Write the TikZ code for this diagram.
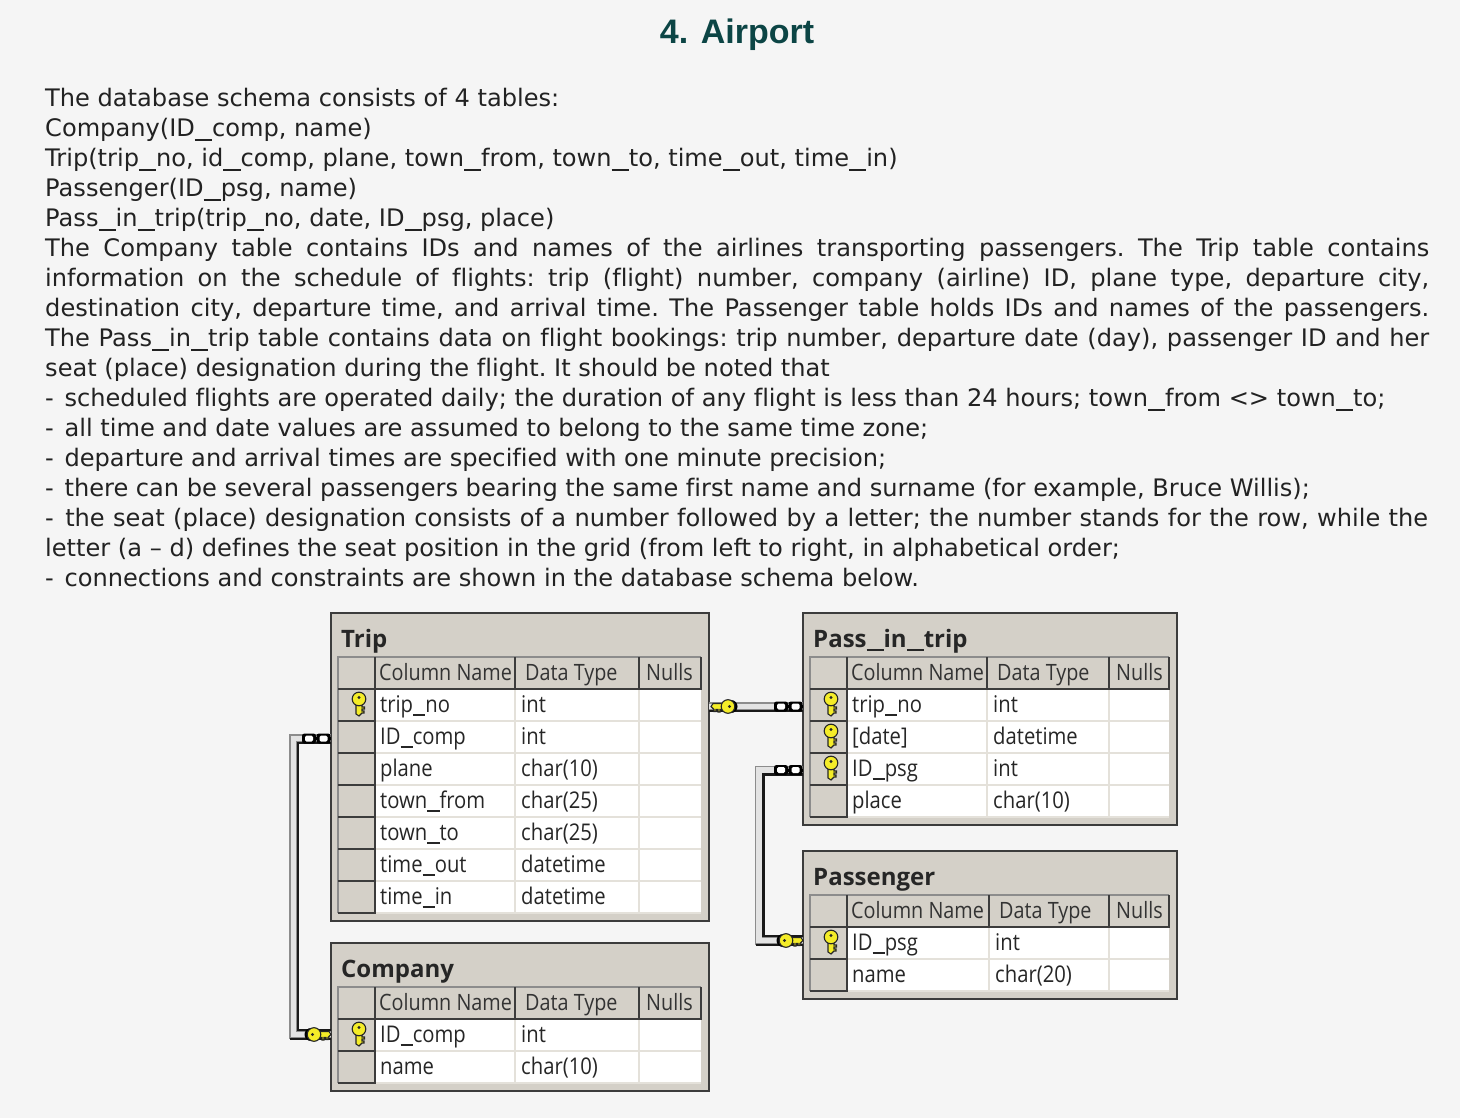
\documentclass[tikz,border=0pt]{standalone}
\usepackage{fontspec}
\setmainfont[Ligatures=NoCommon]{DejaVu Sans}
\newfontfamily\titlefont{Liberation Sans}
\newfontfamily\panelfont{Open Sans}
\newfontfamily\gridfont[FakeStretch=0.88]{Open Sans}
\usetikzlibrary{positioning}

\definecolor{pagebg}{HTML}{F5F5F5}
\definecolor{titleteal}{HTML}{0C4545}
\definecolor{bodytext}{HTML}{222222}
\definecolor{panelbg}{HTML}{D4D0C8}
\definecolor{paneledge}{HTML}{3C3C3C}
\definecolor{gridlight}{HTML}{E4E1DA}
\definecolor{keyyellow}{HTML}{F4EC28}

\newcommand{\us}{\rule[-0.17em]{0.71em}{0.075em}}
\newcommand{\usg}{\rule[-0.17em]{0.53em}{0.07em}}
\newcommand{\dsh}{-\kern3pt\ }
\newcommand{\keyshape}{
    \draw[draw=black!85, fill=keyyellow, line width=1.1pt]
        (-3,0) -- (3,0) -- (3,3) -- (5.5,3) -- (5.5,5) -- (3,5) -- (3,7) -- (5,7) -- (5,9) -- (3,9)
        -- (0,12) -- (-3,10) -- cycle;
    \draw[draw=black!85, fill=keyyellow, line width=1.1pt] (0,-5) circle (6.8);
    \fill[black!85] (0,-6.5) circle (1.6);
}

\tikzset{
    bodyline/.style={anchor=base west, inner sep=0pt, text=bodytext, font=\frenchspacing\fontsize{24.1}{30}\selectfont},
    panel/.style={fill=panelbg, draw=paneledge, line width=2.4pt},
    paneltitle/.style={anchor=base west, inner sep=0pt, font=\panelfont\bfseries\fontsize{24}{30}\selectfont, text=black!85},
    gridtext/.style={anchor=base west, inner sep=0pt, font=\gridfont\fontsize{23}{30}\selectfont, text=black!85},
    gridhead/.style={anchor=base west, inner sep=0pt, font=\gridfont\fontsize{22.5}{30}\selectfont, text=black!80},
    keyicon/.pic={\keyshape},
    linkkey/.pic={
        \fill[black] (0,-8) circle (6.5);
        \keyshape
    },
    chainend/.pic={
        \fill[black] (-16,-1.5) rectangle (0,1.5);
        \fill[black, rounded corners=2.5pt] (-29,-5) rectangle (-15,5);
        \fill[black, rounded corners=2.5pt] (-14.5,-5) rectangle (-0.5,5);
        \fill[white, rounded corners=1.5pt] (-26,-3) rectangle (-18,3);
        \fill[white, rounded corners=1.5pt] (-11.5,-3) rectangle (-3.5,3);
    },
    linkback/.style={draw=black!45, line width=9pt},
    linkfill/.style={draw=black!11, line width=5.4pt},
    linkedge/.style={draw=black!90, line width=2.8pt},
}

% #1 id, #2 title, #3 left, #4 right, #5 top, #6 bottom, #7 type column, #8 nulls column, #9 rows
\newcommand{\dbtable}[9]{
    \draw[panel] (#3,#5) rectangle (#4,#6);
    \node[paneltitle] (#1title) at (#3+10,#5+34) {#2};
    \fill[white] (#3+44,#5+76) rectangle (#4-8,#6-8);
    \draw[black!45, line width=1.6pt] (#3+7,#6-8) -- (#3+7,#5+44) -- (#4-8,#5+44);
    \draw[paneledge, line width=2pt] (#3+7,#5+76) -- (#4-8,#5+76) -- (#4-8,#5+44);
    \draw[paneledge, line width=2pt] (#3+44,#5+44) -- (#3+44,#6-8) -- (#3+7,#6-8);
    \draw[paneledge, line width=2pt] (#7,#5+44) -- (#7,#5+76);
    \draw[paneledge, line width=2pt] (#8,#5+44) -- (#8,#5+76);
    \draw[gridlight, line width=2pt] (#7,#5+77) -- (#7,#6-8);
    \draw[gridlight, line width=2pt] (#8,#5+77) -- (#8,#6-8);
    \node[gridhead] (#1colname) at (#3+48,#5+67) {Column Name};
    \node[gridhead] (#1coltype) at (#7+10,#5+67) {Data Type};
    \node[gridhead] (#1colnull) at (#8+7,#5+67) {Nulls};
    \foreach \cname/\ctype/\ckey [count=\r from 0] in {#9} {
        \draw[paneledge, line width=2pt] (#3+7,#5+108+32*\r) -- (#3+44,#5+108+32*\r);
        \draw[gridlight, line width=2pt] (#3+45,#5+108+32*\r) -- (#4-8,#5+108+32*\r);
        \node[gridtext] (#1name\r) at (#3+49,#5+99+32*\r) {\cname};
        \node[gridtext] (#1type\r) at (#7+6,#5+99+32*\r) {\ctype};
        \ifnum\ckey=1
            \pic at (#3+28,#5+91+32*\r) {keyicon};
        \fi
    }
}

\begin{document}
\begin{tikzpicture}[x=1pt,y=-1pt]

\useasboundingbox (0,0) rectangle (1460,1118);
\fill[pagebg] (0,0) rectangle (1460,1118);

\node[anchor=base, inner sep=0pt, text=titleteal, font=\titlefont\bfseries\fontsize{34}{40}\selectfont] (heading) at (737,44) {4. Airport};

\foreach \t [count=\i from 0] in {
    {The database schema consists of 4 tables:},
    {Company(ID\us comp, name)},
    {Trip(trip\us no, id\us comp, plane, town\us from, town\us to, time\us out, time\us in)},
    {Passenger(ID\us psg, name)},
    {Pass\us in\us trip(trip\us no, date, ID\us psg, place)}}
    \node[bodyline] (intro\i) at (45,106.5+30*\i) {\t};

\foreach \t [count=\i from 0] in {
    {The Company table contains IDs and names of the airlines transporting passengers. The Trip table contains},
    {information on the schedule of flights: trip (flight) number, company (airline) ID, plane type, departure city,},
    {destination city, departure time, and arrival time. The Passenger table holds IDs and names of the passengers.},
    {The Pass\us in\us trip table contains data on flight bookings: trip number, departure date (day), passenger ID and her}}
    \node[bodyline] (para\i) at (45,256.5+30*\i) {\makebox[1384pt][s]{\t}};

\node[bodyline] (para4) at (45,376.5) {seat (place) designation during the flight. It should be noted that};
\node[bodyline] (note0) at (45,406.5) {\dsh scheduled flights are operated daily; the duration of any flight is less than 24 hours; town\us from <> town\us to;};
\node[bodyline] (note1) at (45,436.5) {\dsh all time and date values are assumed to belong to the same time zone;};
\node[bodyline] (note2) at (45,466.5) {\dsh departure and arrival times are specified with one minute precision;};
\node[bodyline] (note3) at (45,496.5) {\dsh there can be several passengers bearing the same first name and surname (for example, Bruce Willis);};
\node[bodyline] (note4) at (45,526.5) {\makebox[1383pt][s]{\dsh the seat (place) designation consists of a number followed by a letter; the number stands for the row, while the}};
\node[bodyline] (note5) at (45,556.5) {letter (a – d) defines the seat position in the grid (from left to right, in alphabetical order;};
\node[bodyline] (note6) at (45,586.5) {\dsh connections and constraints are shown in the database schema below.};

\dbtable{trip}{Trip}{331}{709}{613}{921}{515}{639}{
    trip\usg no/int/1, ID\usg comp/int/0, plane/char(10)/0, town\usg from/char(25)/0,
    town\usg to/char(25)/0, time\usg out/datetime/0, time\usg in/datetime/0}
\dbtable{company}{Company}{331}{709}{943}{1091}{515}{639}{
    ID\usg comp/int/1, name/char(10)/0}
\dbtable{pass}{Pass\us in\us trip}{803}{1177}{613}{825}{987}{1109}{
    trip\usg no/int/1, {[date]}/datetime/1, ID\usg psg/int/1, place/char(10)/0}
\dbtable{passenger}{Passenger}{803}{1177}{851}{999}{989}{1109}{
    ID\usg psg/int/1, name/char(20)/0}

% connector ends on the table edges
\coordinate (tripcomp) at (331,738.5);
\coordinate (companyid) at (331,1034.5);
\coordinate (leftbus) at (293.5,900);
\coordinate (passpsg) at (803,770);
\coordinate (passengerid) at (803,940.5);
\coordinate (rightbus) at (759,850);
\coordinate (tripno) at (709,706.5);
\coordinate (passno) at (803,706.5);

% Trip.ID_comp to Company.ID_comp
\draw[linkback] (tripcomp) -| (leftbus) |- (companyid);
\draw[linkfill] (tripcomp) -| (leftbus) |- (companyid);
\draw[linkedge] ([yshift=-4.5pt]tripcomp) -| ([xshift=4.5pt]leftbus) |- ([yshift=4.5pt]companyid);
\draw[linkedge] ([yshift=-4.5pt]companyid) -- ++(-41,0);
\pic at (tripcomp) {chainend};
\pic[rotate=90,xscale=-1] at (319,1034.5) {linkkey};

% Pass_in_trip.ID_psg to Passenger.ID_psg
\draw[linkback] (passpsg) -| (rightbus) |- (passengerid);
\draw[linkfill] (passpsg) -| (rightbus) |- (passengerid);
\draw[linkedge] ([yshift=-4.5pt]passpsg) -| ([xshift=4.5pt]rightbus) |- ([yshift=4.5pt]passengerid);
\draw[linkedge] ([yshift=-4.5pt]passengerid) -- ++(-47,0);
\pic at (passpsg) {chainend};
\pic[rotate=90,xscale=-1] at (791,940.5) {linkkey};

% Trip.trip_no to Pass_in_trip.trip_no
\draw[linkback] (tripno) -- (passno);
\draw[linkfill] (tripno) -- (passno);
\draw[linkedge] ([yshift=-4.5pt]tripno) -- ([yshift=-4.5pt]passno);
\pic at (passno) {chainend};
\pic[rotate=-90] at (723,706.5) {linkkey};

\end{tikzpicture}
\end{document}
